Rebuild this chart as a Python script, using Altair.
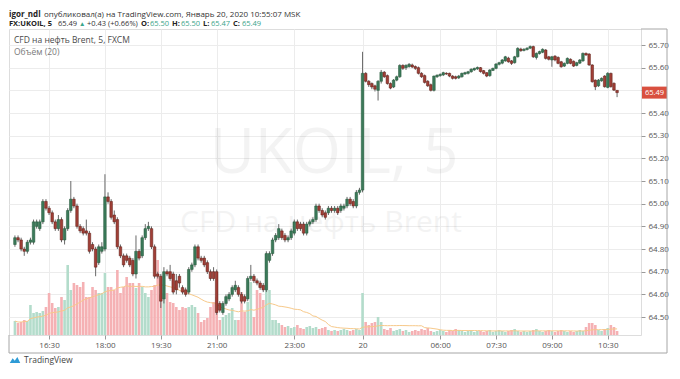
import altair as alt
import pandas as pd

# ---------------- data ----------------
opens = [
    64.82, 64.85, 64.84, 64.80, 64.79, 64.83, 64.83, 64.90, 64.89, 64.92,
    65.01, 64.98, 64.96, 64.92, 64.89, 64.93, 64.84, 64.89, 64.97, 65.02,
    64.99, 64.90, 64.89, 64.88, 64.87, 64.82, 64.80, 64.74, 64.79, 64.80,
    65.03, 65.01, 64.95, 64.93, 64.81, 64.77, 64.77, 64.76, 64.75, 64.69,
    64.79, 64.77, 64.85, 64.89, 64.89, 64.81, 64.69, 64.68, 64.58, 64.70,
    64.70, 64.69, 64.66, 64.68, 64.63, 64.62, 64.61, 64.71, 64.73, 64.81,
    64.76, 64.76, 64.74, 64.70, 64.70, 64.70, 64.56, 64.52, 64.56, 64.58,
    64.60, 64.62, 64.63, 64.60, 64.59, 64.58, 64.67, 64.68, 64.66, 64.65,
    64.64, 64.62, 64.75, 64.78, 64.84, 64.85, 64.88, 64.86, 64.84, 64.85,
    64.87, 64.92, 64.91, 64.91, 64.87, 64.91, 64.92, 64.93, 64.99, 64.97,
    64.96, 64.96, 64.98, 64.97, 64.98, 64.97, 64.98, 64.99, 65.02, 65.01,
    64.99, 65.05, 65.06, 65.575, 65.54, 65.53, 65.52, 65.50, 65.54, 65.58,
    65.565, 65.53, 65.515, 65.545, 65.56, 65.61, 65.60, 65.605, 65.612, 65.605,
    65.60, 65.575, 65.565, 65.54, 65.525, 65.50, 65.56, 65.565, 65.568, 65.575,
    65.575, 65.563, 65.56, 65.555, 65.56, 65.572, 65.575, 65.582, 65.59, 65.595,
    65.60, 65.587, 65.578, 65.565, 65.588, 65.597, 65.615, 65.62, 65.63, 65.642,
    65.63, 65.622, 65.648, 65.682, 65.676, 65.68, 65.686, 65.693, 65.645, 65.662,
    65.668, 65.678, 65.648, 65.634, 65.651, 65.645, 65.626, 65.607, 65.619, 65.637,
    65.628, 65.61, 65.62, 65.63, 65.663, 65.66, 65.612, 65.545, 65.52, 65.542,
    65.563, 65.513, 65.575, 65.531, 65.50,
]
highs = [
    64.86, 64.86, 64.85, 64.81, 64.84, 64.85, 64.93, 64.93, 64.93, 65.02,
    65.02, 64.99, 64.97, 64.93, 64.95, 64.94, 64.90, 64.98, 65.10, 65.03,
    65.00, 64.91, 64.90, 64.93, 64.88, 64.83, 64.81, 64.82, 64.83, 65.13,
    65.05, 65.02, 64.97, 64.94, 64.82, 64.78, 64.78, 64.77, 64.76, 64.86,
    64.80, 64.86, 64.91, 64.92, 64.90, 64.82, 64.70, 64.69, 64.72, 64.71,
    64.73, 64.70, 64.69, 64.69, 64.64, 64.63, 64.72, 64.74, 64.82, 64.82,
    64.77, 64.77, 64.75, 64.71, 64.72, 64.71, 64.57, 64.57, 64.60, 64.61,
    64.64, 64.66, 64.64, 64.61, 64.60, 64.68, 64.73, 64.69, 64.67, 64.66,
    64.65, 64.79, 64.79, 64.85, 64.87, 64.91, 64.89, 64.87, 64.86, 64.89,
    64.93, 64.93, 64.92, 64.92, 64.92, 64.93, 64.94, 65.00, 65.00, 64.98,
    64.97, 64.99, 64.99, 64.99, 64.99, 65.00, 65.00, 65.03, 65.03, 65.02,
    65.06, 65.07, 65.67, 65.58, 65.545, 65.535, 65.525, 65.545, 65.59, 65.585,
    65.57, 65.535, 65.55, 65.565, 65.615, 65.615, 65.615, 65.62, 65.618, 65.61,
    65.605, 65.58, 65.57, 65.545, 65.53, 65.565, 65.57, 65.575, 65.582, 65.58,
    65.578, 65.567, 65.565, 65.568, 65.578, 65.582, 65.586, 65.597, 65.60, 65.605,
    65.603, 65.59, 65.58, 65.593, 65.60, 65.62, 65.626, 65.638, 65.652, 65.648,
    65.634, 65.652, 65.69, 65.688, 65.686, 65.69, 65.698, 65.697, 65.667, 65.675,
    65.685, 65.682, 65.652, 65.652, 65.655, 65.65, 65.63, 65.623, 65.645, 65.641,
    65.632, 65.626, 65.638, 65.667, 65.667, 65.664, 65.615, 65.548, 65.55, 65.557,
    65.567, 65.58, 65.578, 65.535, 65.50,
]
lows = [
    64.81, 64.83, 64.79, 64.77, 64.78, 64.82, 64.82, 64.89, 64.88, 64.91,
    64.97, 64.95, 64.91, 64.88, 64.88, 64.83, 64.82, 64.88, 64.96, 64.98,
    64.89, 64.87, 64.86, 64.86, 64.78, 64.79, 64.68, 64.73, 64.78, 64.79,
    65.00, 64.93, 64.91, 64.80, 64.76, 64.72, 64.74, 64.72, 64.68, 64.67,
    64.75, 64.76, 64.84, 64.88, 64.80, 64.67, 64.67, 64.54, 64.56, 64.68,
    64.66, 64.60, 64.60, 64.63, 64.60, 64.59, 64.60, 64.70, 64.72, 64.75,
    64.74, 64.72, 64.69, 64.66, 64.66, 64.51, 64.52, 64.51, 64.55, 64.57,
    64.59, 64.61, 64.59, 64.56, 64.56, 64.57, 64.66, 64.65, 64.64, 64.62,
    64.61, 64.61, 64.74, 64.77, 64.83, 64.84, 64.84, 64.83, 64.83, 64.84,
    64.86, 64.88, 64.88, 64.86, 64.86, 64.90, 64.91, 64.92, 64.96, 64.94,
    64.93, 64.95, 64.96, 64.96, 64.95, 64.96, 64.97, 64.98, 64.99, 64.98,
    64.98, 65.04, 65.05, 65.535, 65.515, 65.505, 65.495, 65.455, 65.53, 65.555,
    65.525, 65.505, 65.51, 65.54, 65.555, 65.59, 65.59, 65.60, 65.598, 65.59,
    65.57, 65.555, 65.53, 65.515, 65.495, 65.495, 65.555, 65.56, 65.563, 65.568,
    65.558, 65.548, 65.548, 65.55, 65.556, 65.568, 65.57, 65.578, 65.586, 65.59,
    65.578, 65.57, 65.558, 65.56, 65.585, 65.593, 65.61, 65.615, 65.626, 65.622,
    65.612, 65.618, 65.645, 65.67, 65.672, 65.676, 65.682, 65.643, 65.636, 65.658,
    65.664, 65.636, 65.632, 65.604, 65.628, 65.615, 65.60, 65.603, 65.615, 65.615,
    65.603, 65.606, 65.616, 65.626, 65.652, 65.608, 65.534, 65.501, 65.515, 65.538,
    65.512, 65.509, 65.512, 65.497, 65.47,
]
closes = [
    64.85, 64.84, 64.80, 64.79, 64.83, 64.84, 64.92, 64.92, 64.92, 65.01,
    64.98, 64.96, 64.92, 64.89, 64.93, 64.84, 64.89, 64.97, 65.02, 64.99,
    64.90, 64.88, 64.87, 64.87, 64.79, 64.80, 64.72, 64.81, 64.81, 65.03,
    65.01, 64.94, 64.92, 64.81, 64.77, 64.73, 64.75, 64.73, 64.69, 64.79,
    64.76, 64.85, 64.89, 64.90, 64.81, 64.68, 64.68, 64.57, 64.70, 64.69,
    64.67, 64.61, 64.62, 64.65, 64.61, 64.60, 64.71, 64.73, 64.81, 64.76,
    64.75, 64.73, 64.70, 64.67, 64.67, 64.52, 64.53, 64.56, 64.59, 64.60,
    64.63, 64.64, 64.60, 64.57, 64.57, 64.67, 64.68, 64.66, 64.65, 64.63,
    64.62, 64.78, 64.78, 64.84, 64.86, 64.89, 64.85, 64.84, 64.85, 64.88,
    64.92, 64.89, 64.89, 64.87, 64.91, 64.92, 64.93, 64.99, 64.97, 64.95,
    64.94, 64.98, 64.97, 64.98, 64.96, 64.99, 64.99, 65.02, 65.00, 64.99,
    65.05, 65.06, 65.575, 65.54, 65.525, 65.515, 65.505, 65.54, 65.58, 65.56,
    65.53, 65.51, 65.545, 65.56, 65.61, 65.597, 65.61, 65.615, 65.603, 65.597,
    65.575, 65.56, 65.535, 65.52, 65.50, 65.563, 65.567, 65.57, 65.578, 65.572,
    65.563, 65.553, 65.553, 65.563, 65.575, 65.578, 65.582, 65.593, 65.597, 65.601,
    65.583, 65.575, 65.563, 65.59, 65.597, 65.616, 65.622, 65.634, 65.648, 65.626,
    65.619, 65.648, 65.685, 65.675, 65.681, 65.686, 65.693, 65.648, 65.663, 65.671,
    65.681, 65.641, 65.637, 65.648, 65.634, 65.619, 65.604, 65.619, 65.641, 65.619,
    65.607, 65.622, 65.634, 65.663, 65.656, 65.612, 65.538, 65.516, 65.545, 65.553,
    65.516, 65.575, 65.516, 65.501, 65.49,
]
volumes = [
    280, 240, 260, 300, 280, 600, 440, 460, 440, 480,
    560, 840, 640, 540, 560, 760, 700, 1400, 900, 1040,
    1000, 960, 1060, 760, 760, 960, 900, 840, 840, 1240,
    960, 960, 900, 1300, 840, 960, 1160, 1040, 1040, 940,
    1040, 960, 840, 760, 900, 1000, 1500, 800, 840, 840,
    660, 640, 560, 500, 560, 540, 560, 600, 560, 440,
    260, 300, 340, 560, 660, 760, 300, 360, 400, 440,
    540, 300, 300, 860, 460, 660, 1060, 360, 900, 840,
    700, 1300, 900, 300, 300, 240, 200, 160, 180, 140,
    160, 200, 140, 120, 160, 180, 140, 160, 120, 140,
    160, 100, 80, 100, 80, 100, 120, 100, 80, 100,
    120, 100, 840, 260, 200, 240, 260, 360, 260, 120,
    100, 140, 80, 100, 120, 80, 100, 60, 80, 100,
    80, 120, 100, 140, 80, 60, 80, 100, 80, 60,
    100, 80, 120, 100, 80, 60, 80, 100, 60, 80,
    80, 60, 80, 100, 60, 80, 100, 80, 60, 80,
    100, 120, 80, 60, 80, 60, 80, 100, 120, 80,
    60, 80, 100, 80, 60, 80, 100, 80, 60, 80,
    60, 80, 100, 80, 160, 240, 240, 200, 100, 80,
    120, 140, 200, 160, 80,
]

time_tick_pos = [11, 29, 47, 65, 90, 112, 137, 155, 173, 191]
time_tick_labels = ["16:30", "18:00", "19:30", "21:00", "23:00", "20",
                    "06:00", "07:30", "09:00", "10:30"]
price_ticks = [64.50, 64.60, 64.70, 64.80, 64.90, 65.00, 65.10,
               65.20, 65.30, 65.40, 65.50, 65.60, 65.70]

last_close = closes[-1]

# ---------------- chart ----------------
FONT = "Open Sans"
W, H = 632, 306

df = pd.DataFrame({
    "i": list(range(len(closes))),
    "o": opens, "h": highs, "l": lows, "c": closes, "v": volumes,
})

label_expr = "{}[indexof({}, datum.value)]".format(
    "[" + ",".join("'%s'" % t for t in time_tick_labels) + "]",
    "[" + ",".join(str(p) for p in time_tick_pos) + "]",
)
# the last-price marker hides the axis label that lies under it
price_label_expr = ("abs(datum.value - %s) < 0.03 ? '' : format(datum.value, '.2f')"
                    % last_close)

x_enc = alt.X(
    "i:Q",
    scale=alt.Scale(domain=[-0.3, 200.1], nice=False, zero=False),
    axis=alt.Axis(values=time_tick_pos, labelExpr=label_expr, grid=True,
                  gridColor="#ececec", tickColor="#9a9a9a", tickSize=4,
                  labelFontSize=8, labelColor="#555555", labelFont=FONT,
                  labelPadding=2, domain=False, title=None, labelFlush=False,
                  labelOverlap=False),
)
price_scale = alt.Scale(domain=[64.4208, 65.7706], nice=False, zero=False)
price_axis = alt.Axis(orient="right", values=price_ticks, labelExpr=price_label_expr,
                      grid=True, gridColor="#ececec", tickColor="#9a9a9a",
                      tickSize=4, labelFontSize=8, labelColor="#555555",
                      labelFont=FONT, labelPadding=3, domain=False, title=None,
                      labelOverlap=False)
vol_scale = alt.Scale(domain=[0, 6120], nice=False, zero=True)

UP = "datum.c >= datum.o"
one = pd.DataFrame({"k": [0]})


def label(txt, x, y, size=8, color="#222222", weight="normal",
          align="left", opacity=1.0, baseline="middle"):
    return alt.Chart(one).mark_text(
        align=align, baseline=baseline, font=FONT, fontSize=size,
        fontWeight=weight, color=color, opacity=opacity,
    ).encode(x=alt.value(x), y=alt.value(y), text=alt.value(txt))


def rule(x, x2, y, y2, color="#a6a6a6"):
    return alt.Chart(one).mark_rule(color=color, strokeWidth=1).encode(
        x=alt.value(x), x2=alt.value(x2), y=alt.value(y), y2=alt.value(y2))


watermark = alt.layer(
    label("UKOIL, 5", 325, 144, size=62, color="#000000", align="center",
          opacity=0.045, baseline="alphabetic"),
    label("CFD на нефть Brent", 312, 203, size=30, color="#000000",
          align="center", opacity=0.045, baseline="alphabetic"),
)

vol_bars = alt.Chart(df).mark_bar(size=2.6, clip=True).encode(
    x=x_enc, y=alt.Y("v:Q", scale=vol_scale, axis=None),
    color=alt.condition(UP, alt.value("#b3dccb"), alt.value("#f5b1b4")))
vol_ma = alt.Chart(df).transform_window(
    ma="mean(v)", frame=[-19, 0], sort=[alt.SortField("i")]
).mark_line(color="#f7c98a", strokeWidth=1, clip=True).encode(
    x=x_enc, y=alt.Y("ma:Q", scale=vol_scale, axis=None))
vol_group = alt.layer(vol_bars, vol_ma)

wicks = alt.Chart(df).mark_rule(color="#686868", strokeWidth=1, clip=True).encode(
    x=x_enc, y=alt.Y("l:Q", scale=price_scale, axis=price_axis), y2="h:Q")
bodies = alt.Chart(df).mark_bar(size=2.6, clip=True, strokeWidth=0.5).encode(
    x=x_enc, y=alt.Y("o:Q", scale=price_scale, axis=price_axis), y2="c:Q",
    fill=alt.condition(UP, alt.value("#3b7a5a"), alt.value("#a13f37")),
    stroke=alt.condition(UP, alt.value("#225437"), alt.value("#5b1a13")))
price_box = alt.Chart(one).mark_rect(color="#d9503f", yOffset=-6, y2Offset=6).encode(
    x=alt.value(633), x2=alt.value(658),
    y=alt.YDatum(last_close, scale=price_scale, axis=price_axis),
    y2=alt.Y2Datum(last_close))
price_txt = alt.Chart(one).mark_text(
    align="left", baseline="middle", font=FONT, fontSize=7.5, color="white").encode(
    x=alt.value(636),
    y=alt.YDatum(last_close, scale=price_scale, axis=price_axis),
    text=alt.value("%.2f" % last_close))
price_group = alt.layer(wicks, bodies, price_box, price_txt)

frame = alt.layer(
    rule(632, 658, 0, 0),
    rule(658, 658, 0, 324),
    rule(0, 658, 324, 324),
    rule(0, 0, 306, 324),
)

L1, L2 = -14, -5
header = alt.layer(
    label("igor_ndl", 0, L1, weight="bold", color="#222222"),
    label("опубликовал(а) на TradingView.com, Январь 20, 2020 10:55:07 MSK",
          35, L1, color="#333333"),
    label("FX:UKOIL, 5", 0, L2, size=7.5, weight="bold", color="#222222"),
    label("65.49", 49, L2, size=7.5, color="#333333"),
    label("▲", 70, L2, size=6.5, color="#3aa58a"),
    label("+0.43 (+0.66%)", 78, L2, size=7.5, color="#333333"),
    label("O:", 132, L2, size=7.5, weight="bold", color="#222222"),
    label("65.50", 141, L2, size=7.5, color="#3aa58a"),
    label("H:", 163, L2, size=7.5, weight="bold", color="#222222"),
    label("65.50", 172, L2, size=7.5, color="#3aa58a"),
    label("L:", 194, L2, size=7.5, weight="bold", color="#222222"),
    label("65.47", 202, L2, size=7.5, color="#3aa58a"),
    label("C:", 224, L2, size=7.5, weight="bold", color="#222222"),
    label("65.49", 233, L2, size=7.5, color="#3aa58a"),
    label("CFD на нефть Brent, 5, FXCM", 5, 11, size=8.5, color="#4a4a4a"),
    label("Объём (20)", 5, 23, size=8.5, color="#7a7a7a"),
)

logo_icon = alt.Chart(one).mark_point(
    shape="M-1,0.55 L-0.45,-0.35 L-0.05,0.15 L0.45,-0.55 L1,0.55 Z",
    filled=True, color="#2e9bd6", size=110, opacity=1).encode(
    x=alt.value(6), y=alt.value(331))
logo = alt.layer(
    logo_icon,
    label("TradingView", 15, 331, size=8.5, color="#444444"),
)

chart = alt.layer(
    watermark, vol_group, price_group, frame, header, logo
).resolve_scale(y="independent").properties(
    width=W, height=H,
    autosize=alt.AutoSizeParams(type="none"),
    padding={"left": 1, "top": 21, "right": 28, "bottom": 30},
).configure_view(stroke="#a6a6a6", strokeWidth=1).configure(background="white")

chart.save("out.html", embed_options={"renderer": "svg", "actions": False})
